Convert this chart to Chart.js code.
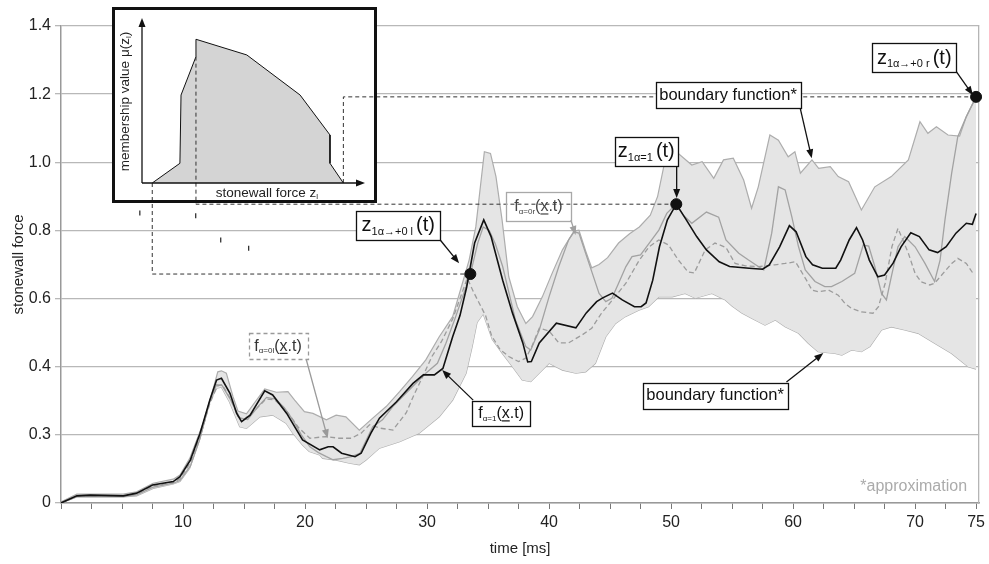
<!DOCTYPE html>
<html>
<head>
<meta charset="utf-8">
<script src="https://cdn.jsdelivr.net/npm/chart.js@4/dist/chart.umd.min.js"></script>
<style>
  html, body { margin: 0; padding: 0; background: #fff; }
  #wrap { position: relative; width: 989px; height: 564px; overflow: hidden; }
  #main { position: absolute; left: 0; top: 0; }
  #insetBox { position: absolute; left: 112px; top: 7px; width: 259px; height: 190px;
              border: 3px solid #111; background: #fff; }
  #inset { display: block; }
</style>
</head>
<body>
<div id="wrap">
  <canvas id="main" width="989" height="564"></canvas>
  <div id="insetBox"><canvas id="inset" width="259" height="190"></canvas></div>
</div>
<script>
// ---- time axis [ms] / stonewall force series, as [t, value] pairs ----
const fAlpha1 = [
  [0,0],[1.3,0.021],[2.4,0.023],[5.1,0.021],[6.2,0.029],[7.5,0.053],[9.2,0.063],[9.75,0.077],
  [10.6,0.126],[11.4,0.205],[12.2,0.302],[12.75,0.361],[13.15,0.366],[13.85,0.322],[14.4,0.263],
  [14.8,0.239],[15.5,0.258],[16.7,0.329],[17.35,0.317],[18.5,0.263],[19.8,0.185],[21.2,0.156],
  [21.9,0.165],[22.3,0.165],[23.0,0.146],[24.1,0.136],[24.6,0.146],[25.4,0.205],[26.1,0.249],
  [27.5,0.297],[28.85,0.351],[29.7,0.376],[30.6,0.376],[31.3,0.395],[32.1,0.488],[32.7,0.55],
  [33.25,0.634],[33.9,0.763],[34.65,0.831],[35.25,0.782],[36.2,0.654],[37.0,0.558],[37.85,0.47],
  [38.25,0.414],[38.55,0.415],[39.2,0.47],[40.6,0.528],[42.2,0.514],[43.05,0.558],[43.9,0.591],
  [44.4,0.602],[45.2,0.616],[46.0,0.596],[47.0,0.576],[47.55,0.576],[47.95,0.587],[48.5,0.654],
  [49.05,0.752],[49.7,0.831],[50.43,0.877],[51.25,0.831],[52.1,0.782],[52.9,0.743],[53.95,0.708],
  [54.8,0.694],[56.4,0.689],[57.5,0.686],[58.05,0.699],[58.9,0.752],[59.7,0.814],[60.25,0.796],
  [61.05,0.723],[61.6,0.699],[62.4,0.689],[63.5,0.689],[63.9,0.713],[64.6,0.772],[65.2,0.808],
  [65.7,0.772],[66.25,0.713],[66.95,0.664],[67.5,0.669],[68.2,0.704],[68.85,0.752],[69.65,0.793],
  [70.35,0.782],[71.15,0.743],[71.85,0.735],[72.55,0.752],[73.35,0.792],[74.2,0.821],[74.7,0.818],
  [75,0.85]
];

const fAlpha0l = [
  [0,0],[1.3,0.02],[5.1,0.02],[6.2,0.027],[7.5,0.05],[9.2,0.06],[9.75,0.071],[10.6,0.118],
  [11.4,0.195],[12.2,0.292],[12.8,0.343],[13.2,0.348],[13.9,0.305],[14.5,0.255],[14.9,0.243],
  [15.6,0.262],[16.8,0.305],[17.5,0.303],[18.5,0.27],[19.5,0.22],[20.4,0.19],[21.7,0.195],
  [22.8,0.19],[23.8,0.19],[24.6,0.205],[25.3,0.23],[26.1,0.22],[27.2,0.214],[28.3,0.265],
  [28.9,0.315],[29.7,0.375],[30.4,0.43],[31.2,0.475],[32.1,0.54],[32.9,0.62],[33.3,0.66],
  [33.8,0.62],[34.3,0.585],[34.8,0.55],[35.3,0.49],[36.0,0.45],[36.7,0.43],[37.5,0.415],
  [38.1,0.425],[38.6,0.46],[39.2,0.513],[40.0,0.505],[40.8,0.47],[41.6,0.47],[42.7,0.493],
  [43.5,0.513],[44.3,0.557],[45.2,0.596],[46.3,0.645],[47.4,0.713],[48.2,0.752],[49.0,0.772],
  [49.8,0.757],[50.6,0.713],[51.4,0.678],[51.9,0.675],[52.8,0.743],[53.6,0.763],[54.5,0.75],
  [55.25,0.703],[56.1,0.696],[57.2,0.694],[58.5,0.699],[59.35,0.703],[60.2,0.708],[61.1,0.654],
  [61.55,0.625],[62.1,0.62],[62.9,0.625],[63.7,0.61],[64.25,0.586],[64.8,0.571],[65.6,0.561],
  [66.55,0.557],[67.0,0.576],[67.55,0.645],[68.1,0.752],[68.6,0.806],[69.45,0.733],[70.0,0.674],
  [70.5,0.649],[71.2,0.64],[71.6,0.645],[73.0,0.703],[73.5,0.718],[74.2,0.703],[74.75,0.674]
];

const fAlpha0r = [
  [0,0],[1.3,0.019],[5.1,0.019],[6.2,0.024],[7.5,0.046],[9.2,0.058],[9.75,0.066],[10.6,0.108],
  [11.4,0.19],[12.2,0.3],[12.75,0.347],[13.2,0.345],[13.9,0.303],[14.65,0.25],[15.3,0.245],
  [16.2,0.285],[16.85,0.31],[17.6,0.305],[18.3,0.28],[19.0,0.244],[19.7,0.2],[20.4,0.165],
  [21.1,0.148],[21.75,0.136],[22.3,0.127],[23.1,0.131],[23.8,0.136],[24.5,0.146],[25.55,0.224],
  [26.35,0.244],[27.2,0.283],[28.8,0.341],[29.9,0.381],[30.85,0.41],[31.55,0.469],[32.35,0.547],
  [33.2,0.635],[33.7,0.694],[34.15,0.762],[34.6,0.81],[35.1,0.8],[35.6,0.76],[36.2,0.694],
  [37.25,0.537],[38.1,0.459],[38.5,0.449],[39.2,0.508],[40.0,0.605],[40.8,0.694],[41.6,0.772],
  [42.05,0.796],[42.45,0.792],[43.0,0.733],[43.55,0.674],[44.1,0.615],[44.65,0.591],[45.15,0.601],
  [45.7,0.645],[46.3,0.694],[46.8,0.723],[47.5,0.728],[48.2,0.762],[49.0,0.801],[49.65,0.85],
  [50.4,0.877],[51.0,0.845],[51.7,0.821],[52.9,0.854],[53.9,0.839],[54.5,0.772],[55.55,0.733],
  [56.35,0.713],[57.15,0.694],[57.6,0.684],[58.25,0.792],[58.8,0.928],[59.35,0.919],[59.9,0.84],
  [60.45,0.752],[61.0,0.684],[61.8,0.65],[62.6,0.635],[63.15,0.635],[64.0,0.65],[65.05,0.674],
  [65.75,0.757],[66.2,0.754],[66.7,0.694],[67.25,0.615],[67.65,0.596],[68.05,0.664],[68.6,0.752],
  [69.15,0.782],[70.0,0.752],[70.8,0.704],[71.6,0.65],[72.05,0.713],[72.45,0.831],[73.0,0.968],
  [73.5,1.075],[74.2,1.134],[75,1.192]
];

const boundUpper = [
  [0,0.003],[1.3,0.026],[5.1,0.026],[6.2,0.033],[7.55,0.058],[9.2,0.07],[9.75,0.082],[10.55,0.131],
  [11.65,0.234],[12.45,0.332],[12.85,0.385],[13.15,0.388],[13.55,0.381],[14.1,0.312],[14.5,0.27],
  [15.2,0.262],[16.7,0.335],[17.65,0.325],[18.6,0.327],[19.15,0.302],[19.95,0.268],[20.65,0.263],
  [21.75,0.244],[22.55,0.258],[23.35,0.253],[24.45,0.214],[25.55,0.249],[26.65,0.283],[27.75,0.327],
  [28.8,0.371],[29.9,0.42],[31.0,0.488],[32.1,0.547],[32.9,0.645],[33.45,0.713],[34.0,0.811],
  [34.7,1.031],[35.2,1.026],[35.65,0.958],[36.15,0.831],[36.7,0.664],[37.4,0.576],[38.1,0.527],
  [38.65,0.547],[39.45,0.605],[40.25,0.674],[41.1,0.743],[42.05,0.798],[42.45,0.801],[43.0,0.74],
  [43.5,0.69],[44.1,0.7],[44.8,0.72],[45.7,0.763],[46.6,0.79],[47.4,0.81],[48.3,0.845],[48.9,0.9],
  [49.4,0.987],[50.6,1.026],[51.7,0.992],[52.55,1.002],[53.5,0.953],[54.3,1.007],[55.1,1.012],
  [55.95,0.948],[56.6,0.865],[57.15,0.928],[58.1,1.08],[58.8,1.065],[59.6,1.016],[60.15,1.031],
  [60.6,0.968],[61.55,1.007],[62.1,0.982],[63.05,0.987],[63.7,0.958],[64.55,0.943],[65.6,0.86],
  [66.7,0.928],[68.05,0.958],[69.45,1.007],[70.4,1.119],[71.05,1.085],[71.75,1.104],[72.7,1.08],
  [73.65,1.077],[74.2,1.134],[75,1.192]
];

const boundLower = [
  [0,0],[1.3,0.018],[5.1,0.018],[6.2,0.021],[7.55,0.043],[9.2,0.056],[9.75,0.063],[10.55,0.102],
  [11.35,0.185],[12.2,0.297],[12.75,0.337],[13.15,0.34],[13.8,0.297],[14.65,0.224],[15.2,0.219],
  [16.3,0.253],[17.35,0.258],[18.45,0.234],[19.0,0.205],[19.8,0.17],[20.35,0.151],[21.2,0.141],
  [21.45,0.131],[22.55,0.126],[23.65,0.117],[24.45,0.112],[25.0,0.126],[26.1,0.161],[27.75,0.18],
  [29.35,0.205],[31.0,0.253],[32.1,0.302],[33.2,0.381],[33.7,0.459],[34.1,0.53],[34.6,0.555],
  [35.35,0.48],[36.15,0.44],[37.0,0.4],[37.8,0.361],[38.5,0.356],[39.2,0.381],[40.0,0.41],
  [41.1,0.39],[42.2,0.381],[43.0,0.385],[43.8,0.41],[44.65,0.488],[45.45,0.527],[46.25,0.547],
  [47.35,0.566],[48.15,0.576],[49.0,0.605],[50.1,0.605],[51.15,0.615],[52.0,0.601],[53.35,0.615],
  [54.45,0.596],[55.0,0.578],[55.8,0.558],[56.6,0.542],[57.7,0.522],[58.55,0.537],[59.35,0.517],
  [60.45,0.498],[61.25,0.469],[62.05,0.444],[63.45,0.439],[64.0,0.434],[64.8,0.449],[65.6,0.444],
  [66.3,0.459],[67.25,0.508],[68.05,0.517],[69.15,0.508],[70.25,0.498],[71.6,0.469],[73.0,0.439],
  [74.35,0.4],[75,0.393]
];

// characteristic points z(t): α→+0 left, α=1, α→+0 right
const zPoints = [[33.55,0.672],[50.43,0.877],[75,1.192]];
// small marks below the membership inset
const strayMarks = [[6.46,0.851],[11.04,0.843],[13.09,0.772],[15.38,0.748]];

// membership function μ(z_l) of the stonewall force (inset)
const memberZ  = [0.046, 0.170, 0.175, 0.242, 0.242, 0.470, 0.709, 0.843, 0.843, 0.903];
const memberMu = [0,     0.137, 0.612, 0.879, 1.0,   0.891, 0.612, 0.334, 0.137, 0];

// tick labels
const yTickLabels = ['0','0.3','0.4','0.6','0.8','1.0','1.2','1.4'];
const xLabelledTicks = [10,20,30,40,50,60,70,75];

// ---- drawing helpers ----
const FONT = "'Liberation Sans', Arial, Helvetica, sans-serif";
Chart.defaults.font.family = FONT;
Chart.defaults.color = '#222';

const toXY = arr => arr.map(([x, y]) => ({x, y}));

function drawRich(ctx, parts, cx, cy, color) {
  const base = parts[0][1];
  let total = 0;
  const items = parts.map(([text, size, kind]) => {
    ctx.font = size + 'px ' + FONT;
    const w = ctx.measureText(text).width;
    total += w;
    return {text, size, kind, w};
  });
  let x = cx - total / 2;
  const y0 = cy + base * 0.3;
  ctx.fillStyle = color;
  ctx.textAlign = 'left';
  ctx.textBaseline = 'alphabetic';
  items.forEach(it => {
    ctx.font = it.size + 'px ' + FONT;
    const y = it.kind === 'sub' ? y0 + base * 0.16 : y0;
    ctx.fillText(it.text, x, y);
    if (it.kind === 'u') ctx.fillRect(x, y + 2, it.w, 1.2);
    x += it.w;
  });
}

function drawArrow(ctx, x0, y0, x1, y1, color, width) {
  const ang = Math.atan2(y1 - y0, x1 - x0), L = 9, W = 3.5;
  ctx.save();
  ctx.setLineDash([]);
  ctx.strokeStyle = color;
  ctx.lineWidth = width;
  ctx.beginPath();
  ctx.moveTo(x0, y0);
  ctx.lineTo(x1 - L * 0.8 * Math.cos(ang), y1 - L * 0.8 * Math.sin(ang));
  ctx.stroke();
  ctx.fillStyle = color;
  ctx.beginPath();
  ctx.moveTo(x1, y1);
  ctx.lineTo(x1 - L * Math.cos(ang) + W * Math.sin(ang), y1 - L * Math.sin(ang) - W * Math.cos(ang));
  ctx.lineTo(x1 - L * Math.cos(ang) - W * Math.sin(ang), y1 - L * Math.sin(ang) + W * Math.cos(ang));
  ctx.closePath();
  ctx.fill();
  ctx.restore();
}

// labelled callouts, anchored in data coordinates
const fParts = sub => [['f',16],[sub,8,'sub'],['(',16],['x',16,'u'],['.t)',16]];
const callouts = [
  {at:[27.64,0.8145], w:84, h:29, parts:[['z',20],['1α→+0 l ',11,'sub'],['(t)',20]], from:[31.08,0.772], to:[32.63,0.704]},
  {at:[47.97,1.0317], w:63, h:29, parts:[['z',20],['1α=1 ',11,'sub'],['(t)',20]], from:[50.46,1.012], to:[50.46,0.895]},
  {at:[69.93,1.3075], w:84, h:29, parts:[['z',20],['1α→+0 r ',11,'sub'],['(t)',20]], from:[73.28,1.271], to:[74.75,1.197]},
  {at:[54.67,1.1975], w:145, h:26, parts:[['boundary function*',16.5]], from:[60.58,1.160], to:[61.53,1.012]},
  {at:[53.61,0.3155], w:145, h:26, parts:[['boundary function*',16.5]], from:[59.46,0.355], to:[62.48,0.440]},
  {at:[36.07,0.2627], w:58, h:25, parts:fParts('α=1'), from:[33.78,0.302], to:[31.24,0.390]},
  {at:[17.79,0.4608], w:59, h:26, parts:fParts('α=0l'), from:[20.09,0.4226], to:[21.86,0.190],
   border:'#9a9a9a', dash:[4,3], text:'#333', arrow:'#9a9a9a'},
  {at:[39.13,0.870], w:65, h:29, parts:fParts('α=0r'), from:[41.79,0.8306], to:[42.18,0.7866],
   border:'#a8a8a8', text:'#444', arrow:'#a0a0a0', clear:true}
];

// dashed links from the membership inset to z(t)
const links = [
  {from:[memberZ[0], memberMu[0]], dot:0},
  {from:[memberZ[3], memberMu[3]], dot:1},
  {from:[memberZ[9], memberMu[9]], dot:2}
];

let insetChart = null;
let mainChart = null;

function insetOffset() {
  const a = document.getElementById('inset').getBoundingClientRect();
  const b = document.getElementById('main').getBoundingClientRect();
  return {dx: a.left - b.left, dy: a.top - b.top};
}

function linkPaths(main, inset) {
  if (!main || !inset) return [];
  const off = insetOffset();
  return links.map(l => {
    const ix = inset.scales.x.getPixelForValue(l.from[0]) + off.dx;
    const iy = inset.scales.y.getPixelForValue(l.from[1]) + off.dy;
    const px = main.scales.x.getPixelForValue(zPoints[l.dot][0]);
    const py = main.scales.y.getPixelForValue(zPoints[l.dot][1]);
    return [[ix, iy], [ix, py], [px, py]];
  });
}

function strokeLinks(ctx, paths, dx, dy) {
  ctx.save();
  ctx.strokeStyle = '#333';
  ctx.lineWidth = 1;
  ctx.setLineDash([4, 3]);
  paths.forEach(p => {
    ctx.beginPath();
    ctx.moveTo(p[0][0] - dx, p[0][1] - dy);
    ctx.lineTo(p[1][0] - dx, p[1][1] - dy);
    ctx.lineTo(p[2][0] - dx, p[2][1] - dy);
    ctx.stroke();
  });
  ctx.restore();
}

// ---- inset: membership function ----
const insetDecor = {
  id: 'insetDecor',
  afterDatasetsDraw(chart) {
    const {ctx, chartArea: a} = chart;
    if (mainChart) {
      const off = insetOffset();
      strokeLinks(ctx, linkPaths(mainChart, chart), off.dx, off.dy);
    }
    // axes with arrow heads
    drawArrow(ctx, a.left, a.bottom, a.left, a.top, '#111', 1.3);
    drawArrow(ctx, a.left, a.bottom, a.right, a.bottom, '#111', 1.3);
    // axis captions
    drawRich(ctx, [['stonewall force z',13.5],['l',8,'sub']],
             a.left + (a.right - a.left) * 0.56, a.bottom + 9.5, '#222');
    ctx.save();
    ctx.translate(a.left - 17, (a.top + a.bottom) / 2 + 1);
    ctx.rotate(-Math.PI / 2);
    drawRich(ctx, [['membership value μ(z',13.5],['l',8,'sub'],[')',13.5]], 0, 0, '#222');
    ctx.restore();
  }
};

insetChart = new Chart(document.getElementById('inset'), {
  type: 'line',
  data: {
    datasets: [{
      data: memberZ.map((z, i) => ({x: z, y: memberMu[i]})),
      borderColor: '#111', borderWidth: 1, backgroundColor: '#d4d4d4',
      fill: 'origin', pointRadius: 0, tension: 0
    }]
  },
  options: {
    responsive: false, animation: false, events: [],
    layout: {padding: {left: 27, right: 9, top: 8, bottom: 17}},
    plugins: {legend: {display: false}, tooltip: {enabled: false}},
    scales: {
      x: {type: 'linear', min: 0, max: 1, display: false},
      y: {type: 'linear', min: 0, max: 1.148, display: false}
    }
  },
  plugins: [insetDecor]
});

// ---- main chart: callouts, links, footnote ----
const callouts_plugin = {
  id: 'callouts',
  beforeDatasetDraw(chart, args) {
    if (args.index !== 0) return;
    const ctx = chart.ctx;
    const px = t => chart.scales.x.getPixelForValue(t);
    const py = v => chart.scales.y.getPixelForValue(v);
    strokeLinks(ctx, linkPaths(chart, insetChart), 0, 0);
    callouts.forEach(c => {
      const cx = px(c.at[0]), cy = py(c.at[1]);
      const x0 = Math.round(cx - c.w / 2) + 0.5, y0 = Math.round(cy - c.h / 2) + 0.5;
      drawArrow(ctx, px(c.from[0]), py(c.from[1]), px(c.to[0]), py(c.to[1]), c.arrow || '#111', 1.3);
      ctx.save();
      if (!c.clear) { ctx.fillStyle = '#fff'; ctx.fillRect(x0, y0, c.w, c.h); }
      ctx.strokeStyle = c.border || '#111';
      ctx.lineWidth = 1.3;
      ctx.setLineDash(c.dash || []);
      ctx.strokeRect(x0, y0, c.w, c.h);
      ctx.restore();
      drawRich(ctx, c.parts, cx, cy, c.text || '#111');
    });
    // footnote
    ctx.save();
    ctx.font = '16px ' + FONT;
    ctx.fillStyle = '#ababab';
    ctx.textAlign = 'right';
    ctx.textBaseline = 'middle';
    ctx.fillText('*approximation', px(74.26), py(0.047));
    ctx.restore();
  }
};

mainChart = new Chart(document.getElementById('main'), {
  type: 'line',
  data: {
    datasets: [
      {label: 'z(t)', data: toXY(zPoints), showLine: false, pointRadius: 5.5,
       pointBackgroundColor: '#111', pointBorderColor: '#111', clip: false},
      {label: 'marks', data: toXY(strayMarks), showLine: false, pointStyle: 'line', rotation: 90,
       pointRadius: 2.5, pointBorderColor: '#333', pointBorderWidth: 1.3},
      {label: 'f α=1', data: toXY(fAlpha1), borderColor: '#111', borderWidth: 1.6,
       pointRadius: 0, fill: false},
      {label: 'f α=0l', data: toXY(fAlpha0l), borderColor: '#9c9c9c', borderWidth: 1.3,
       borderDash: [5, 3], pointRadius: 0, fill: false},
      {label: 'f α=0r', data: toXY(fAlpha0r), borderColor: '#a2a2a2', borderWidth: 1.3,
       pointRadius: 0, fill: false},
      {label: 'upper boundary', data: toXY(boundUpper), borderColor: '#adadad', borderWidth: 1.2,
       pointRadius: 0, fill: '+1', backgroundColor: '#e5e5e5'},
      {label: 'lower boundary', data: toXY(boundLower), borderColor: '#adadad', borderWidth: 1.2,
       pointRadius: 0, fill: false}
    ]
  },
  options: {
    responsive: false, animation: false, events: [],
    layout: {padding: {top: 26, right: 8, bottom: 0, left: 0}},
    elements: {line: {tension: 0}},
    plugins: {legend: {display: false}, tooltip: {enabled: false}},
    scales: {
      x: {
        type: 'linear', min: 0, max: 75.25,
        afterFit: s => { s.height = 61; },
        ticks: {stepSize: 2.5, includeBounds: false, autoSkip: false, maxRotation: 0,
                padding: 4, color: '#222', font: {size: 16},
                callback: v => xLabelledTicks.includes(v) ? String(v) : ''},
        grid: {drawOnChartArea: false, tickLength: 6, color: '#777', lineWidth: 1},
        border: {color: '#999', width: 1.5},
        title: {display: true, text: 'time [ms]', color: '#222', font: {size: 15},
                padding: {top: 0, bottom: 6}}
      },
      y: {
        type: 'linear', min: 0, max: 1.4,
        afterFit: s => { s.width = 61; },
        ticks: {stepSize: 0.2, padding: 4, color: '#222', font: {size: 16},
                callback: (v, i) => yTickLabels[i] !== undefined ? yTickLabels[i] : ''},
        grid: {color: '#b8b8b8', lineWidth: 1.3, tickLength: 6},
        border: {color: '#999', width: 1.5},
        title: {display: true, text: 'stonewall force', color: '#222', font: {size: 15},
                padding: {top: 10, bottom: 0}}
      },
      yR: {
        type: 'linear', position: 'right', min: 0, max: 1.4,
        afterFit: s => { s.width = 0; },
        ticks: {display: false},
        grid: {display: false, drawTicks: false},
        border: {color: '#b5b5b5', width: 1.3}
      }
    }
  },
  plugins: [callouts_plugin]
});

// redraw the inset now that the main chart's scales exist
insetChart.draw();
</script>
</body>
</html>
